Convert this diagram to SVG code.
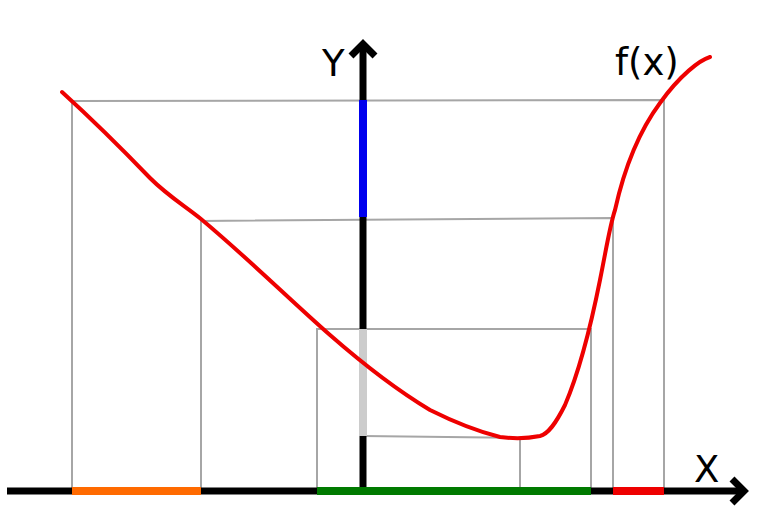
<svg xmlns="http://www.w3.org/2000/svg" width="772" height="512" viewBox="0 0 772 512">
<style>
.g{stroke:#a6a6a6;stroke-width:2;fill:none}
.ax{stroke:#000;stroke-width:7;fill:none}
.seg{stroke-width:8;fill:none}
.t{font-family:"DejaVu Sans","Liberation Sans",sans-serif;font-size:37px;fill:#000}
</style>
<rect width="772" height="512" fill="#fff"/>
<g id="guides">
<polyline class="g" points="72,491 72,101 664,100 664,491"/>
<polyline class="g" points="201,491 201,221 613,218 613,491"/>
<polyline class="g" points="317,491 317,329 591,329 591,491"/>
<polyline class="g" points="363,436 520,438 520,491"/>
</g>
<g id="x-axis">
<line class="ax" x1="7" y1="491" x2="744" y2="491"/>
<polyline class="ax" points="732,479 744,491 732,503"/>
<text class="t" x="694" y="482">X</text>
</g>
<g id="y-axis">
<line class="ax" x1="363" y1="495" x2="363" y2="44"/>
<polyline class="ax" points="351,56 363,44 375,56"/>
<text class="t" x="322" y="76">Y</text>
</g>
<g id="segments">
<line class="seg" stroke="#0000ee" x1="363" y1="100" x2="363" y2="217"/>
<line class="seg" stroke="#cccccc" x1="363" y1="329" x2="363" y2="436"/>
<line class="seg" stroke="#ff6a00" x1="72" y1="491" x2="201" y2="491"/>
<line class="seg" stroke="#007a00" x1="317" y1="491" x2="591" y2="491"/>
<line class="seg" stroke="#ee0000" x1="613" y1="491" x2="664" y2="491"/>
</g>
<g id="curve">
<path d="M62,92 C95,122 125,152 150,178 C168,196 185,206 201,219 C250,260 290,300 330,335 C370,370 400,392 430,410 C460,425 480,432 500,437 C515,439 530,438 540,436 C548,434 555,425 565,405 C580,370 590,330 600,280 C607,245 610,225 615,210 C625,165 640,130 660,103 C680,75 700,60 710,57" stroke="#ee0000" stroke-width="4" fill="none" stroke-linecap="round"/>
<text class="t" x="615" y="75">f(x)</text>
</g>
</svg>
